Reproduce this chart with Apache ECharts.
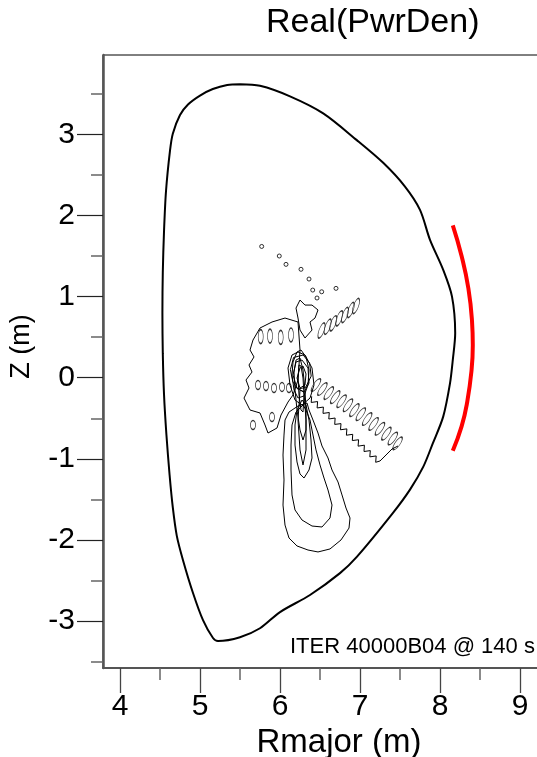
<!DOCTYPE html>
<html><head><meta charset="utf-8">
<script src="https://cdn.jsdelivr.net/npm/echarts@6/dist/echarts.min.js"></script>
<style>html,body{margin:0;padding:0;background:#fff}#c{width:537px;height:757px}</style>
</head><body><div id="c"></div>
<script>
// ---- axis ticks ----
const xMajorTicks = [4, 5, 6, 7, 8, 9];
const xMinorTicks = [4.5, 5.5, 6.5, 7.5, 8.5];
const yMajorTicks = [-3, -2, -1, 0, 1, 2, 3];
const yMinorTicks = [-3.5, -2.5, -1.5, -0.5, 0.5, 1.5, 2.5, 3.5];

// ---- plasma boundary (R, Z) ----
const boundary = [
 [5.5,3.62],[5.75,3.60],[6.125,3.47],[6.54,3.26],[6.96,2.93],[7.29,2.65],[7.56,2.36],[7.75,2.07],
 [7.875,1.70],[8.04,1.33],[8.15,1.0],[8.19,0.55],[8.16,0.22],[8.125,-0.07],[8.04,-0.48],[7.91,-0.81],
 [7.79,-1.10],[7.625,-1.38],[7.41,-1.67],[6.96,-2.21],[6.75,-2.41],[6.375,-2.68],[6.0,-2.89],[5.75,-3.09],
 [5.5,-3.20],[5.225,-3.247],[5.1625,-3.21],[5.0375,-2.99],[4.9125,-2.655],[4.7875,-2.25],[4.71,-1.95],
 [4.66,-1.6],[4.62,-1.2],[4.58,-0.7],[4.55,-0.2],[4.535,0.3],[4.53,0.8],[4.535,1.3],[4.55,1.8],
 [4.575,2.3],[4.625,2.8],[4.66,3.01],[4.75,3.24],[4.85,3.37],[5.0,3.48],[5.16,3.56],[5.34,3.61],[5.5,3.62]
];

// ---- antenna (red) ----
const antenna = [[8.16,1.88],[8.27,1.5],[8.355,1.1],[8.40,0.7],[8.41,0.4],[8.395,0.1],[8.34,-0.3],[8.27,-0.6],[8.16,-0.90]];

// ---- contour polylines (R, Z) ----
const contourA = [[6.3375,-0.312],[6.225,-0.349],[6.1125,-0.423],[6.0625,-0.522],[6.05,-0.707],[6.0375,-0.953],[6.05,-1.261],[6.0375,-1.570],[6.0625,-1.817],[6.1125,-1.977],[6.2125,-2.075],[6.35,-2.125],[6.475,-2.149],[6.625,-2.112],[6.7625,-2.001],[6.8625,-1.854],[6.875,-1.730],[6.825,-1.607],[6.775,-1.446],[6.725,-1.286],[6.65,-1.138],[6.6,-0.990],[6.525,-0.842],[6.475,-0.682],[6.4125,-0.522],[6.3625,-0.398],[6.3375,-0.312]];
const contourB = [[6.2875,-0.337],[6.2,-0.423],[6.15,-0.583],[6.1375,-0.830],[6.1375,-1.138],[6.15,-1.446],[6.1875,-1.631],[6.275,-1.755],[6.4,-1.829],[6.525,-1.841],[6.625,-1.730],[6.65,-1.570],[6.6,-1.385],[6.55,-1.237],[6.5,-1.076],[6.45,-0.891],[6.4125,-0.707],[6.375,-0.522],[6.325,-0.398],[6.2875,-0.337]];
const contourC = [[6.275,-0.275],[6.2125,-0.398],[6.1875,-0.583],[6.1875,-0.830],[6.2125,-1.039],[6.25,-1.187],[6.3,-1.237],[6.3625,-1.138],[6.4,-0.990],[6.3875,-0.768],[6.3625,-0.522],[6.325,-0.337],[6.275,-0.275]];
const contourD1 = [[6.2,0.218],[6.175,0.070],[6.1875,-0.152],[6.2125,-0.398],[6.25,-0.645],[6.2875,-0.768],[6.325,-0.645],[6.325,-0.398],[6.3125,-0.152],[6.2875,0.095],[6.25,0.243],[6.2,0.218]];
const contourD2 = [[6.2375,0.157],[6.225,-0.004],[6.2375,-0.214],[6.2625,-0.398],[6.2875,-0.423],[6.3,-0.214],[6.2875,-0.004],[6.2625,0.144],[6.2375,0.157]];
const contourD3 = [[6.15,0.280],[6.1,0.120],[6.125,-0.090],[6.1875,-0.275],[6.275,-0.337],[6.375,-0.251],[6.425,-0.090],[6.4,0.120],[6.3125,0.280],[6.225,0.317],[6.15,0.280]];
const contourD4 = [[6.2,0.194],[6.1625,0.033],[6.2125,-0.127],[6.3,-0.177],[6.3625,-0.066],[6.35,0.120],[6.275,0.218],[6.2,0.194]];
const contourD5 = [[6.17,0.25],[6.13,0.10],[6.16,-0.05],[6.22,-0.14],[6.32,-0.12],[6.39,0.02],[6.37,0.18],[6.29,0.28],[6.17,0.25]];
const contourD6 = [[6.2125,0.317],[6.1625,0.194],[6.15,0.033],[6.175,-0.151],[6.225,-0.250],[6.3,-0.225],[6.35,-0.090],[6.3625,0.095],[6.325,0.256],[6.2625,0.342],[6.2125,0.317]];
const contourD7 = [[6.25,0.120],[6.2125,-0.004],[6.25,-0.127],[6.3125,-0.090],[6.325,0.046],[6.2875,0.144],[6.25,0.120]];
const contourD8 = [[6.25,-0.152],[6.225,-0.522],[6.25,-0.891],[6.2875,-1.076],[6.325,-0.891],[6.325,-0.522],[6.3,-0.176],[6.25,-0.152]];
const contourLeft = [[6.225,0.687],[6.0625,0.736],[5.9,0.687],[5.75,0.613],[5.6625,0.465],[5.625,0.342],[5.675,0.256],[5.6125,0.157],[5.65,0.070],[5.575,-0.028],[5.6125,-0.127],[5.55,-0.251],[5.625,-0.398],[5.75,-0.435],[5.8125,-0.583],[5.85,-0.682],[5.9625,-0.620],[6.0125,-0.460],[6.1,-0.300],[6.1625,-0.213],[6.225,-0.028],[6.25,0.342],[6.225,0.687]];
const contourUpper = [[6.25,0.958],[6.3125,0.896],[6.4,0.896],[6.475,0.835],[6.4375,0.736],[6.375,0.687],[6.4,0.588],[6.3125,0.490],[6.25,0.588],[6.225,0.736],[6.2,0.859],[6.25,0.958]];
const bandEdge = [[6.396,-0.229],[6.39,-0.305],[6.47,-0.294],[6.464,-0.373],[6.5425,-0.362],[6.5375,-0.440],[6.616,-0.429],[6.61,-0.509],[6.689,-0.497],[6.684,-0.576],[6.7625,-0.566],[6.756,-0.642],[6.836,-0.631],[6.83,-0.709],[6.909,-0.698],[6.904,-0.775],[6.9825,-0.765],[6.976,-0.844],[7.055,-0.832],[7.05,-0.910],[7.129,-0.899],[7.1225,-0.976],[7.2025,-0.965],[7.196,-1.043],[7.25,-1.027],[7.325,-0.953],[7.4,-0.879],[7.475,-0.842]];

// ---- small closed loops: centre R, centre Z ----
const dotsDiag = [[5.771,1.619],[5.991,1.501],[6.075,1.398],[6.2625,1.337],[6.3625,1.217],[6.409,1.081],[6.521,1.060],[6.7,1.102],[6.4625,0.983]];
const ovalsUpper = [[6.519,0.582],[6.596,0.629],[6.666,0.671],[6.741,0.732],[6.8125,0.773],[6.884,0.835],[6.95,0.884]];
const ovalsLeft = [[5.759,0.506],[5.875,0.514],[6.009,0.498],[6.1375,0.527]];
const ovalsLeftLow = [[5.725,-0.090],[5.825,-0.102],[5.925,-0.127],[6.025,-0.114],[6.1125,-0.127]];
const ovalsLower = [[6.45,-0.09],[6.53,-0.14],[6.61,-0.19],[6.69,-0.24],[6.77,-0.29],[6.85,-0.34],[6.93,-0.40],[7.01,-0.45],[7.09,-0.51],[7.17,-0.57],[7.25,-0.63],[7.33,-0.69],[7.41,-0.75],[7.47,-0.81]];
const smallLoops = [[5.9,-0.485],[5.6625,-0.583]];

const contours = [contourA, contourB, contourC, contourD1, contourD2, contourD3, contourD4, contourD5, contourD6, contourD7, contourD8, contourLeft, contourUpper, bandEdge];

const FONT = 'Liberation Sans, Arial, sans-serif';
const chart = echarts.init(document.getElementById('c'), null, {renderer: 'canvas'});

const lineSeries = contours.map(c => ({
  type: 'line', data: c, showSymbol: false, symbol: 'none', silent: true,
  lineStyle: {color: '#000', width: 1}, z: 3
}));
function ovalSeries(data, size, rot) {
  return {type: 'scatter', data: data, symbol: 'circle', symbolSize: size, symbolRotate: rot,
    itemStyle: {color: 'rgba(0,0,0,0)', borderColor: '#000', borderWidth: 1}, silent: true, z: 3};
}

const xMin = 3.7875, xMax = 9.2375, yMin = -3.58, yMax = 3.98;
const axisCommonX = {type: 'value', min: xMin, max: xMax, gridIndex: 0, position: 'bottom', splitLine: {show: false}};
const axisCommonY = {type: 'value', min: yMin, max: yMax, gridIndex: 0, position: 'left', splitLine: {show: false}};

chart.setOption({
  animation: false,
  backgroundColor: '#fff',
  title: {text: 'Real(PwrDen)', left: 266, top: 6, padding: 0,
    textStyle: {fontFamily: FONT, fontSize: 34, fontWeight: 'normal', color: '#000'}},
  grid: {left: 103, top: 55, right: -2, bottom: 89, show: true, borderColor: '#000', borderWidth: 1,
    containLabel: false, outerBoundsMode: 'none'},
  xAxis: [
    Object.assign({}, axisCommonX, {
      name: 'Rmajor (m)', nameLocation: 'middle', nameGap: 44,
      nameTextStyle: {fontFamily: FONT, fontSize: 33, color: '#000', padding: [0, 0, 0, 36]},
      axisLine: {show: true, onZero: false, lineStyle: {color: '#555', width: 2}},
      axisTick: {show: true, customValues: xMajorTicks, length: 25, inside: false, lineStyle: {color: '#444', width: 1.3}},
      axisLabel: {show: true, customValues: xMajorTicks, margin: 24, fontFamily: FONT, fontSize: 30, color: '#000'}
    }),
    Object.assign({}, axisCommonX, {
      axisLine: {show: false, onZero: false},
      axisTick: {show: true, customValues: xMinorTicks, length: 12, lineStyle: {color: '#666', width: 1.5}},
      axisLabel: {show: false}
    })
  ],
  yAxis: [
    Object.assign({}, axisCommonY, {
      name: 'Z (m)', nameLocation: 'middle', nameGap: 68, nameRotate: 90,
      nameTextStyle: {fontFamily: FONT, fontSize: 27, color: '#000', padding: [0, 0, 0, 30]},
      axisLine: {show: true, onZero: false, lineStyle: {color: '#555', width: 2.5}},
      axisTick: {show: true, customValues: yMajorTicks, length: 26, lineStyle: {color: '#222', width: 1.2}},
      axisLabel: {show: true, customValues: yMajorTicks, margin: 28, fontFamily: FONT, fontSize: 30, color: '#000'}
    }),
    Object.assign({}, axisCommonY, {
      axisLine: {show: false, onZero: false},
      axisTick: {show: true, customValues: yMinorTicks, length: 12, lineStyle: {color: '#666', width: 1.5}},
      axisLabel: {show: false}
    })
  ],
  graphic: [{type: 'text', left: 290, top: 636, silent: true,
    style: {text: 'ITER 40000B04 @ 140 s', font: '22px ' + FONT, fill: '#000'}}],
  series: [
    {type: 'line', data: boundary, showSymbol: false, symbol: 'none', smooth: 0.3, silent: true,
      lineStyle: {color: '#000', width: 2}, z: 4},
    {type: 'line', data: antenna, showSymbol: false, symbol: 'none', smooth: 0.5, silent: true,
      lineStyle: {color: '#ff0000', width: 4}, z: 4},
    ...lineSeries,
    ovalSeries(dotsDiag, [4, 4], 0),
    ovalSeries(ovalsUpper, [5, 16], -20),
    ovalSeries(ovalsLeft, [5, 14], 0),
    ovalSeries(ovalsLeftLow, [5, 9], 0),
    ovalSeries(ovalsLower, [5, 15], -35),
    ovalSeries(smallLoops, [5, 9], 0)
  ]
});
</script></body></html>
